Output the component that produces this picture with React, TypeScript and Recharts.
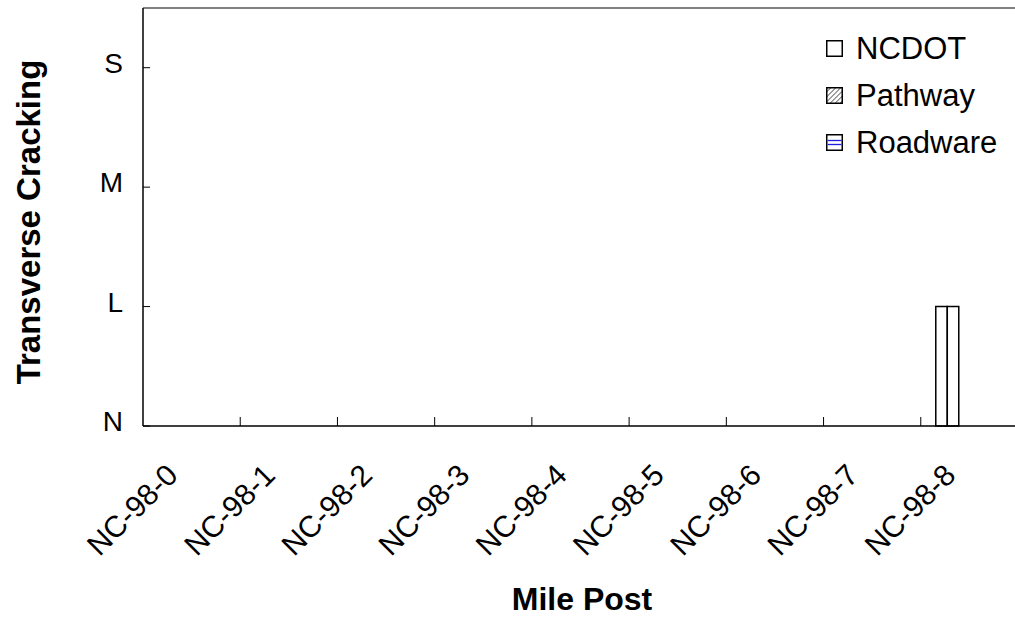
import React from "react";
import {
  BarChart,
  Bar,
  XAxis,
  YAxis,
  Legend,
  ReferenceLine,
} from "recharts";

// 조사 구간별 횡방향 균열 등급
const categories = [
  "NC-98-0",
  "NC-98-1",
  "NC-98-2",
  "NC-98-3",
  "NC-98-4",
  "NC-98-5",
  "NC-98-6",
  "NC-98-7",
  "NC-98-8",
];
const ncdotValues = [0, 0, 0, 0, 0, 0, 0, 0, 1];
const pathwayValues = [0, 0, 0, 0, 0, 0, 0, 0, 1];
const roadwareValues: (number | null)[] = [null, null, null, null, null, null, null, null, null];
const levelTicks = [0, 1, 2, 3];
const levelLabels = ["N", "L", "M", "S"];
const seriesNames = ["NCDOT", "Pathway", "Roadware"];

const data = categories.map((name, i) => ({
  name,
  NCDOT: ncdotValues[i],
  Pathway: pathwayValues[i],
  Roadware: roadwareValues[i],
}));

const FONT = '"Liberation Sans", Arial, sans-serif';
const CHART_W = 1018;
const CHART_H = 617;
const LEFT = 143;
const BAND = (CHART_W - LEFT) / categories.length;

const XTick = ({ x, y, payload, index }: any) => {
  const tx = x - 12;
  const ty = y + 51;
  return (
    <g>
      <text
        x={tx}
        y={ty}
        transform={`rotate(-45, ${tx}, ${ty})`}
        textAnchor="end"
        fontSize={30}
        fontFamily={FONT}
        fill="#000"
      >
        {payload.value}
      </text>
      {index < categories.length - 1 && (
        <line x1={x + BAND / 2} x2={x + BAND / 2} y1={y} y2={y - 9} stroke="#000" strokeWidth={1} />
      )}
    </g>
  );
};

const YTick = ({ x, y, payload }: any) => (
  <g>
    <line x1={x} x2={x + 7} y1={y} y2={y} stroke="#000" strokeWidth={1} />
    <text x={x - 20} y={y + 5} textAnchor="end" fontSize={28} fontFamily={FONT} fill="#000">
      {levelLabels[payload.value]}
    </text>
  </g>
);

const LegendIcon = ({ name }: { name: string }) => (
  <svg width={17} height={17} style={{ marginRight: 13 }}>
    <defs>
      <pattern id="hatch" width="3.5" height="3.5" patternUnits="userSpaceOnUse" patternTransform="rotate(45)">
        <line x1="0" y1="0" x2="0" y2="3.5" stroke="#444" strokeWidth="1.5" />
      </pattern>
    </defs>
    <rect
      x={0.75}
      y={0.75}
      width={15.5}
      height={15.5}
      fill={name === "Pathway" ? "url(#hatch)" : "#fff"}
      stroke="#000"
      strokeWidth={1.5}
    />
    {name === "Roadware" && (
      <>
        <line x1={1.5} x2={15.5} y1={6.5} y2={6.5} stroke="#2020e0" strokeWidth={1.3} />
        <line x1={1.5} x2={15.5} y1={10.5} y2={10.5} stroke="#2020e0" strokeWidth={1.3} />
      </>
    )}
  </svg>
);

const renderLegend = () => (
  <div style={{ fontFamily: FONT, fontSize: 31, color: "#000" }}>
    {seriesNames.map((s) => (
      <div key={s} style={{ display: "flex", alignItems: "center", height: 47 }}>
        <LegendIcon name={s} />
        <span>{s}</span>
      </div>
    ))}
  </div>
);

const App = () => {
  return (
    <div style={{ position: "absolute", left: 0, top: 0, width: 1015, height: CHART_H, overflow: "hidden", background: "#fff" }}>
      <BarChart
        width={CHART_W}
        height={CHART_H}
        data={data}
        margin={{ top: 8, right: 0, bottom: 0, left: 0 }}
        barGap={0}
        barCategoryGap={0}
      >
        <XAxis
          dataKey="name"
          height={191}
          tickSize={0}
          tickMargin={0}
          tick={<XTick />}
          interval={0}
          axisLine={{ stroke: "#000", strokeWidth: 1.5 }}
          label={{
            content: () => (
              <text x={582} y={610} textAnchor="middle" fontSize={32} fontWeight="bold" fontFamily={FONT} fill="#000">
                Mile Post
              </text>
            ),
          }}
        />
        <YAxis
          width={LEFT}
          domain={[0, 3.5]}
          ticks={levelTicks}
          tickSize={0}
          tickMargin={0}
          tick={<YTick />}
          axisLine={{ stroke: "#000", strokeWidth: 1.5 }}
          label={{
            content: () => (
              <text
                x={40}
                y={222}
                transform="rotate(-90, 40, 222)"
                textAnchor="middle"
                fontSize={33}
                fontWeight="bold"
                fontFamily={FONT}
                fill="#000"
              >
                Transverse Cracking
              </text>
            ),
          }}
        />
        <ReferenceLine y={3.5} stroke="#808080" strokeWidth={2} />
        <Legend
          layout="vertical"
          align="center"
          verticalAlign="middle"
          content={renderLegend}
          wrapperStyle={{ position: "absolute", left: 826, top: 25, width: 190 }}
        />
        <Bar dataKey="NCDOT" barSize={11.5} fill="#fff" stroke="#000" strokeWidth={1.5} isAnimationActive={false} />
        <Bar dataKey="Pathway" barSize={11.5} fill="#fff" stroke="#000" strokeWidth={1.5} isAnimationActive={false} />
        <Bar dataKey="Roadware" barSize={44} fill="#fff" stroke="#2020e0" strokeWidth={1} isAnimationActive={false} />
      </BarChart>
    </div>
  );
};

export default App;
